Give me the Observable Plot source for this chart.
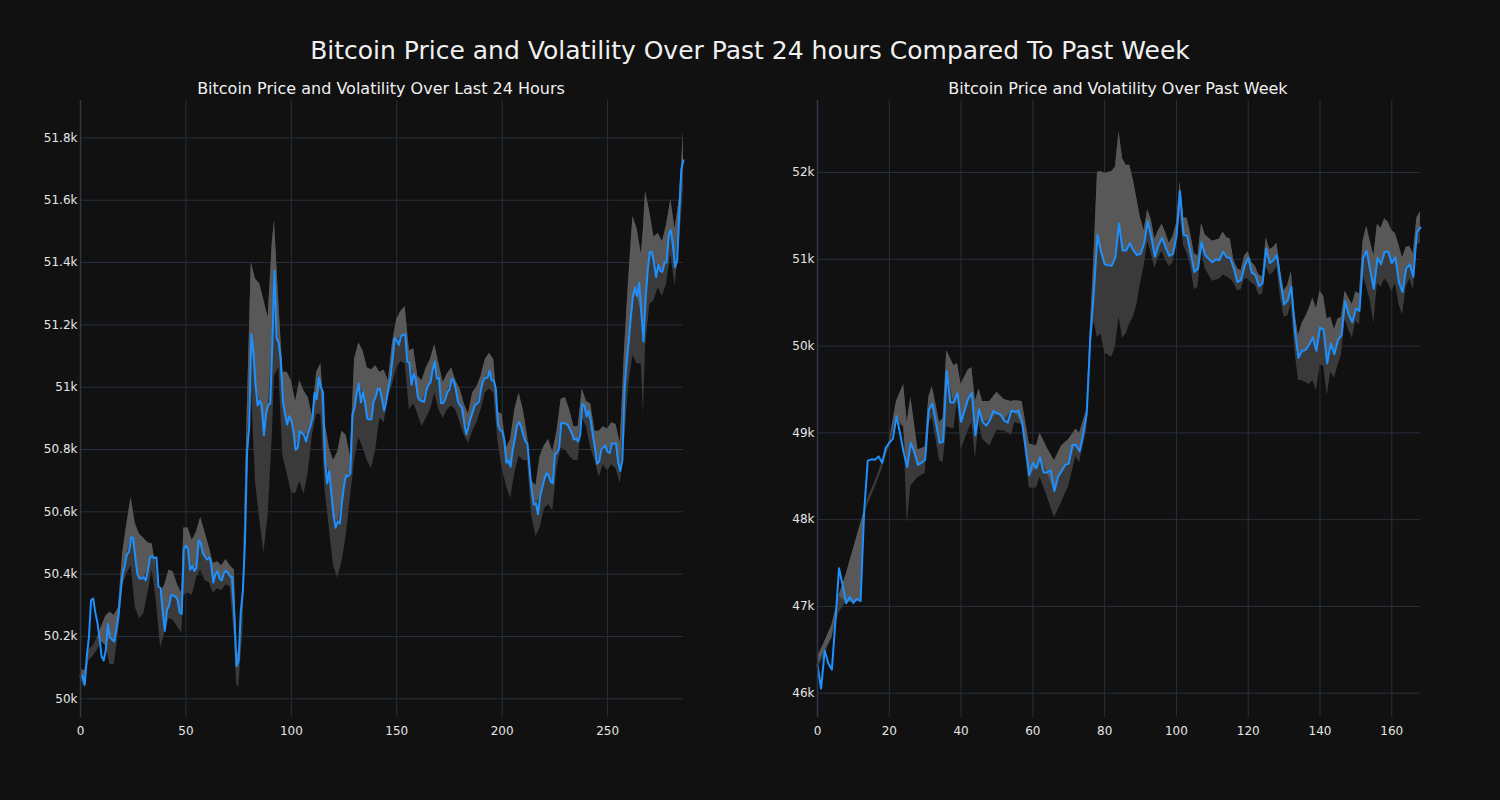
<!DOCTYPE html>
<html><head><meta charset="utf-8">
<script src="https://cdn.jsdelivr.net/npm/d3@7"></script>
<script src="https://cdn.jsdelivr.net/npm/@observablehq/plot@0.6"></script>
<style>
body{margin:0;background:#111111;width:1500px;height:800px;overflow:hidden;font-family:"DejaVu Sans",sans-serif;}
#wrap{position:relative;width:1500px;height:800px;background:#111111;}
.t{position:absolute;color:#f0f0f0;white-space:nowrap;transform:translateX(-50%);line-height:1;}
.c{position:absolute;top:90px;}
</style></head><body><div id="wrap">
<div class="t" style="left:750px;top:38px;font-size:25px">Bitcoin Price and Volatility Over Past 24 hours Compared To Past Week</div>
<div class="t" style="left:381px;top:81px;font-size:16px">Bitcoin Price and Volatility Over Last 24 Hours</div>
<div class="t" style="left:1118px;top:81px;font-size:16px">Bitcoin Price and Volatility Over Past Week</div>
<div class="c" id="left" style="left:0px"></div>
<div class="c" id="right" style="left:737px"></div>
</div>
<script>
// ---- Last 24 hours (5-minute steps) ----
const dayPrice = [
50073,50073,50045,50136,50197,50316,50322,50278,50245,50197,
50136,50123,50157,50240,50197,50190,50184,50224,50265,50339,
50400,50427,50464,50470,50519,50515,50454,50400,50386,50386,
50390,50380,50414,50454,50458,50451,50454,50359,50355,50278,
50218,50285,50299,50332,50332,50328,50319,50278,50272,50481,
50492,50481,50414,50427,50410,50420,50508,50501,50468,50457,
50447,50454,50434,50373,50400,50409,50386,50380,50403,50411,
50403,50393,50390,50265,50105,50123,50278,50346,50501,50792,
50873,51170,51116,51008,50941,50957,50943,50846,50913,50943,
50947,51143,51373,51157,51143,51089,50954,50913,50880,50907,
50893,50859,50799,50805,50859,50853,50846,50826,50853,50873,
50900,50981,50961,51031,51001,50984,50765,50691,50731,50657,
50589,50549,50569,50562,50630,50684,50718,50714,50724,50913,
50934,50981,51011,50951,50984,50947,50900,50896,50897,50954,
50968,50995,50995,50961,50924,50954,50995,51030,51091,51158,
51151,51136,51164,51168,51170,51083,51078,51008,51042,51028,
50968,50958,50955,50953,50989,51008,51015,51055,51082,51028,
51030,50949,50949,50961,50984,50993,51026,51023,50993,50954,
50941,50935,50886,50849,50873,50900,50920,50941,50947,50954,
50995,51022,51030,51030,51053,51022,51022,50995,50880,50862,
50859,50832,50758,50765,50745,50799,50832,50876,50888,50873,
50846,50826,50819,50738,50670,50623,50627,50592,50650,50677,
50704,50724,50718,50697,50691,50785,50789,50805,50886,50884,
50884,50880,50866,50853,50832,50835,50826,50846,50947,50941,
50907,50924,50893,50846,50805,50754,50762,50799,50808,50812,
50792,50789,50819,50819,50819,50758,50731,50765,50988,51077,
51145,51224,51292,51320,51292,51335,51239,51147,51280,51373,
51434,51434,51400,51353,51392,51373,51370,51400,51400,51488,
51504,51454,51386,51407,51563,51699,51728];
const dayBandX = [0,2,4,6,8,10,12,14,16,18,20,22,24,26,28,30,32,34,36,38,40,42,44,46,48,
49,51,53,55,57,59,61,63,65,67,69,71,73,74,75,77,79,81,83,85,87,89,91,92,
94,96,98,100,102,104,106,108,110,112,114,116,118,120,122,124,126,128,130,132,134,136,138,140,
142,144,146,148,150,152,154,156,158,160,162,164,166,168,170,172,174,176,178,180,182,184,186,188,
190,192,194,196,198,200,202,204,206,208,210,212,214,216,218,220,222,224,226,228,230,232,234,236,
238,240,242,244,246,248,250,252,254,256,258,260,262,264,266,267,268,270,272,274,276,278,280,282,284,286];
const dayBandUpper = [50096,50089,50157,50170,50197,50231,50265,50278,50267,50292,50467,50562,50646,50562,50528,50515,50501,50497,50413,50339,50366,50413,50407,50366,50339,
50548,50548,50508,50535,50582,50535,50488,50434,50440,50427,50447,50427,50413,50157,50143,50332,50900,51400,51346,51332,51278,51224,51467,51535,
51278,51048,51048,51021,50954,51021,50988,50967,50907,51048,51075,50886,50805,50765,50792,50859,50846,50778,51089,51143,51116,51062,51055,51069,
51048,51055,51021,51143,51217,51244,51258,51116,51123,51035,51021,51062,51089,51136,51075,51015,51042,51062,51021,50994,50947,50913,50981,51001,
51035,51089,51109,51089,50920,50913,50805,50832,50927,50981,50927,50846,50697,50684,50778,50812,50832,50792,50859,50961,50967,50927,50873,50873,
50994,50954,50947,50859,50859,50873,50866,50886,50880,50819,51116,51346,51548,51508,51427,51508,51629,51562,51481,51494,51467,51521,51602,51508,51602,51818];
const dayBandLower = [50062,50035,50123,50136,50157,50184,50170,50109,50109,50211,50366,50400,50427,50292,50258,50272,50339,50413,50312,50163,50211,50258,50251,50231,50211,
50332,50339,50332,50386,50413,50380,50373,50339,50353,50346,50366,50359,50197,50049,50035,50211,50670,51008,50697,50576,50467,50589,50846,51035,
51062,50778,50724,50663,50657,50697,50657,50724,50846,50913,50913,50670,50548,50427,50386,50440,50521,50643,50765,50839,50805,50765,50738,50798,
50900,50886,50967,51008,51062,51082,51075,50927,50947,50913,50873,50900,50927,50981,50927,50900,50927,50940,50927,50886,50846,50819,50859,50886,
50927,50981,50994,50981,50825,50738,50684,50643,50724,50778,50765,50765,50589,50521,50548,50609,50623,50603,50738,50805,50798,50778,50765,50765,
50900,50873,50805,50765,50711,50751,50731,50751,50738,50690,50819,51008,51102,51075,51075,50913,51129,51265,51278,51319,51292,51332,51427,51325,51454,51636];
const dayXTicks = [0,50,100,150,200,250];
const dayYTicks = [50000,50200,50400,50600,50800,51000,51200,51400,51600,51800];

// ---- Past week (hourly steps) ----
const weekPrice = [
46321,46053,46491,46345,46272,46832,47440,47245,47036,47109,
47041,47089,47060,48096,48680,48695,48690,48729,48656,48826,
48884,48933,49191,48996,48777,48607,48884,48777,48631,48656,
48690,49264,49337,49118,48884,48899,49711,49351,49351,49458,
49127,49264,49395,49458,48972,49273,49127,49084,49142,49254,
49225,49215,49142,49118,49254,49240,49254,49118,48826,48510,
48656,48592,48719,48544,48544,48568,48330,48495,48558,48631,
48646,48860,48860,48787,48982,49215,50091,50626,51282,51088,
50942,50932,50927,51024,51413,51102,51102,51185,51102,51049,
51063,51185,51438,51258,51029,51160,51248,51136,51039,51063,
51258,51783,51282,51268,51063,50854,50893,51200,51049,51005,
50966,51000,50990,51088,51024,51015,50893,50737,50762,50927,
51015,50844,50820,50689,50723,51122,50956,50990,51049,50747,
50480,50528,50684,50190,49864,49946,49956,50019,50100,49946,
50214,50190,49800,50029,49907,50068,50126,50520,50360,50275,
50431,50406,51015,51097,50869,50660,51015,50942,51088,51088,
50956,51024,50732,50625,50893,50942,50796,51316,51365];
const weekBandX = [0,2,4,6,8,10,12,13,14,16,18,20,22,24,25,26,28,30,31,32,34,35,36,38,39,40,42,43,44,45,46,48,50,52,54,55,57,59,61,62,64,66,68,70,72,73,75,76,77,78,
79,80,82,83,84,85,86,87,88,89,90,91,92,93,94,95,96,97,98,99,100,101,102,103,104,105,106,107,108,110,112,113,114,115,116,117,118,119,120,
121,122,123,124,125,126,127,128,129,130,131,132,133,134,135,136,137,138,139,140,141,142,143,144,145,146,147,148,149,150,
151,152,153,154,155,156,157,158,159,160,161,162,163,164,165,166,167,168];
const weekBandUpper = [46418,46589,46783,47124,47367,47659,47950,48096,48242,48437,48656,48899,49361,49556,49118,49410,48802,48836,49410,49531,49118,49166,49945,49774,49799,49556,49726,49750,49361,49507,49361,49361,49468,49385,49361,49371,49361,48875,48850,48996,48826,48680,48850,48923,49045,48996,49264,50188,51015,52000,
52012,51988,52012,52061,52474,52158,52085,52085,51915,51696,51477,51331,51574,51453,51234,51331,51404,51307,51185,51258,51404,51890,51477,51477,51282,51063,51039,51414,51282,51209,51234,51316,51248,51234,50990,50893,50869,51039,51088,
50966,50917,50820,50796,51248,51112,51136,51185,50869,50635,50699,50859,50382,50115,50261,50334,50431,50553,50431,50635,50577,50310,50334,50188,50310,50334,50635,50553,50480,50626,
50601,51209,51380,51209,51039,51404,51355,51467,51428,51331,51297,51161,51015,51136,51151,51063,51477,51550];
const weekBandLower = [46272,46443,46637,46929,47051,47051,47060,48048,48169,48364,48583,48836,49118,49069,47950,48388,48486,48534,49118,49166,48680,48656,49069,49045,49361,48802,49021,49118,48704,49118,48923,48850,49030,49021,48972,49118,49094,48364,48364,48486,48267,48023,48194,48388,48729,48656,49021,49945,50285,50100,
50139,49920,49872,49993,50334,50091,50139,50261,50334,50480,50723,50917,51209,51063,50893,51015,51088,50990,50917,50956,51136,51501,51161,51063,50917,50650,50674,51088,50893,50747,50772,50820,50796,50772,50723,50635,50650,50772,50772,
50723,50699,50587,50601,50917,50820,50844,50917,50553,50334,50344,50480,49945,49604,49604,49580,49556,49604,49483,49774,49774,49434,49702,49629,49774,49896,50310,50188,50091,50285,
50236,50820,50674,50528,50261,50723,50674,50772,50723,50626,50723,50480,50358,50674,50772,50650,51161,51185];
const weekXTicks = [0,20,40,60,80,100,120,140,160];
const weekYTicks = [46000,47000,48000,49000,50000,51000,52000];

const GRID = "#27303c";
function chart(price, bx, bu, bl, xDomain, yDomain, xTicks, yTicks) {
  const line = price.map((v, i) => ({x: i, y: v}));
  const band = bx.map((x, i) => ({
    x, up: bu[i], lo: bl[i],
    mid: Math.max(bl[i], Math.min(price[x], bu[i]))
  }));
  return Plot.plot({
    width: 700, height: 660,
    marginLeft: 80, marginRight: 17, marginTop: 10, marginBottom: 33,
    style: {background: "transparent", color: "#e6e6e6", fontSize: "12px", fontFamily: "'DejaVu Sans', sans-serif", overflow: "visible"},
    x: {domain: xDomain, label: null},
    y: {domain: yDomain, label: null},
    marks: [
      Plot.gridX(xTicks, {stroke: GRID, strokeOpacity: 1}),
      Plot.gridY(yTicks, {stroke: GRID, strokeOpacity: 1}),
      Plot.areaY(band, {x: "x", y1: "lo", y2: "up", fill: "#3a3a3a"}),
      Plot.areaY(band, {x: "x", y1: "mid", y2: "up", fill: "#585858"}),
      Plot.line(line, {x: "x", y: "y", stroke: "#1e90ff", strokeWidth: 2}),
      Plot.ruleX([xDomain[0]], {stroke: "#2e3947", strokeWidth: 1.5}),
      Plot.axisX(xTicks, {tickSize: 0, tickPadding: 9, fill: "#e6e6e6", label: null}),
      Plot.axisY(yTicks, {tickSize: 0, tickPadding: 3, fill: "#e6e6e6", label: null, tickFormat: d => (d / 1000) + "k"})
    ]
  });
}
document.getElementById("left").appendChild(
  chart(dayPrice, dayBandX, dayBandUpper, dayBandLower, [0, 286], [49940, 51920], dayXTicks, dayYTicks));
document.getElementById("right").appendChild(
  chart(weekPrice, weekBandX, weekBandUpper, weekBandLower, [0, 168], [45720, 52830], weekXTicks, weekYTicks));
</script>
</body></html>
